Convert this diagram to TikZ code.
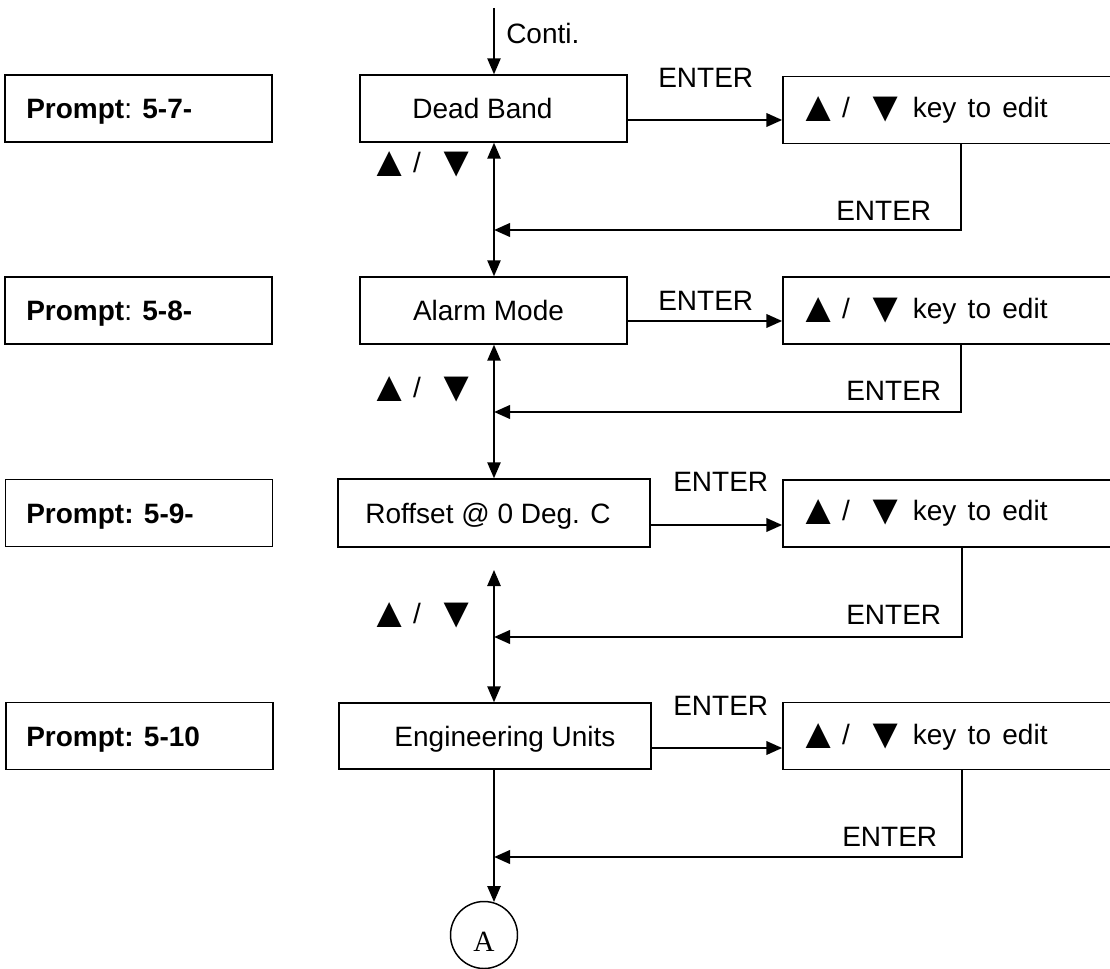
\documentclass[tikz,border=0pt]{standalone}
\usepackage{fontspec}
\setmainfont{Liberation Sans}
\newfontfamily\seriffont{Liberation Serif}
\usetikzlibrary{arrows.meta}
\newcommand\bigtri[1]{\raisebox{-3pt}{\fontsize{32}{32}\selectfont #1}}
\newcommand\updn{\bigtri{▲}\hspace{2pt}/\hspace{11pt}\bigtri{▼}}
\newcommand\kte{key\hspace{8.5pt}to\hspace{8.5pt}edit}
\tikzset{
  bx/.style={draw, line width=1.1pt, inner sep=0pt},
  pbx/.style={bx, minimum width=200.25pt, minimum height=50.25pt},
  rbx/.style={bx, minimum width=248.25pt, minimum height=50.25pt},
  txt/.style={font=\fontsize{21}{25}\selectfont, inner sep=0pt, text height=15pt, text depth=0pt},
  ptxt/.style={txt, anchor=west},
  mline/.style={line width=1.2pt},
  eline/.style={line width=2.1pt},
  arr/.style={-{Triangle[length=12pt,width=10pt]}},
  dblarrow/.style={{Triangle[length=12pt,width=10pt]}-{Triangle[length=12pt,width=10pt]}},
}
\begin{document}
\begin{tikzpicture}[x=0.75pt,y=-0.75pt]
\useasboundingbox (0,0) rectangle (1110,969);

% left prompt boxes
\node[pbx] (p1) at (138.5,108.5) {};
\node[pbx] (p2) at (138.5,310.5) {};
\node[pbx] (p3) at (139,513) {};
\node[pbx] (p4) at (139.5,736) {};
\node[ptxt] (p1t) at (26,108.5) {\textbf{Prompt}: \textbf{5-7-}};
\node[ptxt] (p2t) at (26,310.5) {\textbf{Prompt}: \textbf{5-8-}};
\node[ptxt] (p3t) at (26,513) {\textbf{Prompt: 5-9-}};
\node[ptxt] (p4t) at (26,736) {\textbf{Prompt: 5-10}};

% middle boxes
\node[bx, minimum width=200.25pt, minimum height=50.25pt] (db) at (493.5,108.5) {};
\node[bx, minimum width=200.25pt, minimum height=50.25pt] (am) at (493.5,310.5) {};
\node[bx, minimum width=234pt, minimum height=51pt] (ro) at (494,513) {};
\node[bx, minimum width=234pt, minimum height=49.5pt] (eu) at (495,736) {};
\node[txt] (dbt) at (482.5,108.5) {Dead Band};
\node[txt] (amt) at (488.5,310.5) {Alarm Mode};
\node[txt] (rot) at (488,513) {Roffset @ 0 Deg. C};
\node[txt] (eut) at (505,736) {Engineering Units};

% right boxes
\node[rbx] (r1) at (948.5,110) {};
\node[rbx] (r2) at (948.5,310.5) {};
\node[rbx] (r3) at (948.5,513.5) {};
\node[rbx] (r4) at (948.5,736) {};
\node[ptxt] (r1t) at (797,108) {\updn\hspace{4.5pt}\kte};
\node[ptxt] (r2t) at (797,309) {\updn\hspace{4.5pt}\kte};
\node[ptxt] (r3t) at (797,511) {\updn\hspace{4.5pt}\kte};
\node[ptxt] (r4t) at (797,734) {\updn\hspace{4.5pt}\kte};

% circle A
\node[draw, circle, line width=1.1pt, minimum size=50.25pt, inner sep=0pt] (A) at (484,935) {};
\node[font=\seriffont\fontsize{22}{26}\selectfont, inner sep=0pt, text height=14.5pt, text depth=0pt] (At) at (484,942) {A};

% coordinates
\coordinate (top) at (494,8);
\coordinate (g3) at (494,570);
\coordinate (aend) at (494,902);
\coordinate (e1) at (0,120);
\coordinate (e2) at (0,321);
\coordinate (e3) at (0,525);
\coordinate (e4) at (0,748);
\coordinate (ret1) at (961,230);
\coordinate (ret2) at (961,412);
\coordinate (ret3) at (962,637);
\coordinate (ret4) at (962,857);

% main vertical flow
\draw[mline,arr] (top) -- (top |- db.north);
\draw[mline,dblarrow] (db.south -| top) -- (am.north -| top);
\draw[mline,dblarrow] (am.south -| top) -- (ro.north -| top);
\draw[mline,dblarrow] (g3) -- (eu.north -| top);
\draw[mline,arr] (eu.south -| top) -- (aend);

% ENTER arrows
\draw[eline,arr] (db.east |- e1) -- (r1.west |- e1);
\draw[eline,arr] (am.east |- e2) -- (r2.west |- e2);
\draw[eline,arr] (ro.east |- e3) -- (r3.west |- e3);
\draw[eline,arr] (eu.east |- e4) -- (r4.west |- e4);

% return loops
\draw[eline,arr] (r1.south -| ret1) -- (ret1) -- (top |- ret1);
\draw[eline,arr] (r2.south -| ret2) -- (ret2) -- (top |- ret2);
\draw[eline,arr] (r3.south -| ret3) -- (ret3) -- (top |- ret3);
\draw[eline,arr] (r4.south -| ret4) -- (ret4) -- (top |- ret4);

% labels
\node[ptxt] (conti) at (506,34) {Conti.};
\node[ptxt] (en1) at (658,77.5) {ENTER};
\node[ptxt] (en2) at (658,300.5) {ENTER};
\node[ptxt] (en3) at (673,482) {ENTER};
\node[ptxt] (en4) at (673,705) {ENTER};
\node[ptxt] (rn1) at (836,211) {ENTER};
\node[ptxt] (rn2) at (846,390.5) {ENTER};
\node[ptxt] (rn3) at (846,614) {ENTER};
\node[ptxt] (rn4) at (842,836) {ENTER};
\node[txt, anchor=east] (ud1) at (478,163) {\updn};
\node[txt, anchor=east] (ud2) at (478,388) {\updn};
\node[txt, anchor=east] (ud3) at (478,613) {\updn};
\end{tikzpicture}
\end{document}
